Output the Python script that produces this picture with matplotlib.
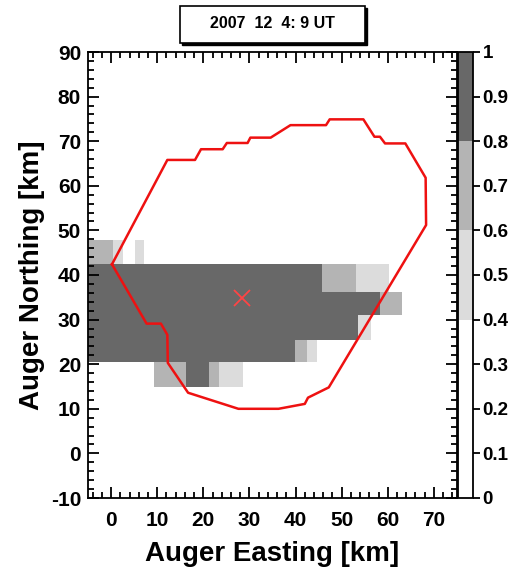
import matplotlib
matplotlib.use('Agg')
import matplotlib.pyplot as plt
import matplotlib.ticker as ticker
from matplotlib.colors import ListedColormap, BoundaryNorm
from matplotlib.patches import Rectangle
import numpy as np

plt.rcParams['font.family'] = ['Liberation Sans', 'DejaVu Sans']
plt.rcParams['font.weight'] = 'bold'
plt.rcParams['axes.unicode_minus'] = False

title = '2007  12  4: 9 UT'

# row edges (km, northing) and the shaded runs in each row: (east start, east end, value)
row_edges = [15.0, 20.4, 25.5, 31.1, 36.3, 42.4, 47.9]
row_runs = [
    [(9.3, 16.3, 0.7), (16.3, 21.3, 0.9), (21.3, 23.5, 0.7), (23.5, 28.5, 0.5)],
    [(-5.0, 39.8, 0.9), (39.8, 42.4, 0.7), (42.4, 44.7, 0.5)],
    [(-5.0, 53.5, 0.9), (53.5, 56.4, 0.5)],
    [(-5.0, 58.3, 0.9), (58.3, 63.0, 0.7)],
    [(-5.0, 45.8, 0.9), (45.8, 53.0, 0.7), (53.0, 60.2, 0.5)],
    [(-5.0, 0.4, 0.7), (0.4, 2.5, 0.5), (5.2, 7.1, 0.5)],
]

# red outline
poly_x = [0.2, 12.2, 18.2, 19.5, 24.2, 25.1, 29.6, 30.2, 34.6, 38.9, 46.6, 47.4,
          54.7, 57.1, 58.3, 59.4, 63.8, 68.2, 68.3, 47.2, 42.7, 42.0, 36.3, 27.6,
          16.7, 12.3, 12.2, 10.8, 7.7, 0.2]
poly_y = [42.4, 65.8, 65.8, 68.2, 68.2, 69.6, 69.6, 70.8, 70.8, 73.6, 73.6, 74.9,
          74.9, 71.0, 71.0, 69.5, 69.5, 61.8, 51.2, 14.8, 12.5, 11.1, 10.0, 10.0,
          13.6, 20.3, 26.6, 29.1, 29.1, 42.4]

center_x = [28.4]
center_y = [34.8]

# build the grid from the runs
x_edges = sorted(set([r[0] for row in row_runs for r in row] + [r[1] for row in row_runs for r in row]))
x_mid = [(a + b) / 2 for a, b in zip(x_edges[:-1], x_edges[1:])]
grid = np.full((len(row_runs), len(x_mid)), np.nan)
for i, row in enumerate(row_runs):
    for j, xm in enumerate(x_mid):
        for x0, x1, v in row:
            if x0 <= xm <= x1:
                grid[i, j] = v

cmap = ListedColormap(['white', 'white', '#dcdcdc', '#b4b4b4', '#686868'])
norm = BoundaryNorm([0, 0.2, 0.4, 0.6, 0.8, 1.0], 5)

fig = plt.figure(figsize=(5.1, 5.74), dpi=100)
ax = fig.add_axes([88 / 510, 76 / 574, 369 / 510, 446 / 574])
cax = fig.add_axes([458 / 510, 76 / 574, 15 / 510, 446 / 574])

mesh = ax.pcolormesh(x_edges, row_edges, np.ma.masked_invalid(grid), cmap=cmap, norm=norm)
ax.plot(poly_x, poly_y, color='#ee1111', lw=1.8)
ax.plot(center_x, center_y, marker='x', ms=11, mew=1.3, color='#ff4444', ls='none')

ax.set_xlim(-5, 75)
ax.set_ylim(-10, 90)
ax.xaxis.set_major_locator(ticker.MultipleLocator(10))
ax.xaxis.set_minor_locator(ticker.MultipleLocator(2))
ax.yaxis.set_major_locator(ticker.MultipleLocator(10))
ax.yaxis.set_minor_locator(ticker.MultipleLocator(2))
ax.tick_params(which='both', direction='in', top=True, right=True, width=1.3, labelsize=15)
ax.tick_params(which='major', length=8)
ax.tick_params(which='minor', length=4)
ax.tick_params(axis='x', pad=9)
ax.tick_params(axis='y', pad=5)
for s in ax.spines.values():
    s.set_linewidth(1.3)
ax.set_xlabel('Auger Easting [km]', fontsize=20, fontweight='bold', labelpad=8)
ax.set_ylabel('Auger Northing [km]', fontsize=20, fontweight='bold', labelpad=4)

cb = fig.colorbar(mesh, cax=cax, ticks=np.arange(0, 1.01, 0.1))
cb.ax.yaxis.set_major_formatter(ticker.FormatStrFormatter('%g'))
cb.ax.tick_params(length=5, width=1.3, labelsize=13.5, pad=2)
cb.outline.set_linewidth(1.3)

# title box with shadow
fig.patches.append(Rectangle((182 / 510, 1 - 45 / 574), 185 / 510, 37 / 574,
                             transform=fig.transFigure, facecolor='black', edgecolor='black'))
fig.patches.append(Rectangle((180 / 510, 1 - 43 / 574), 185 / 510, 37 / 574,
                             transform=fig.transFigure, facecolor='white', edgecolor='black', lw=1.2))
fig.text(272 / 510, 1 - 24 / 574, title, ha='center', va='center', fontsize=11.5, fontweight='bold')

fig.savefig('out.png', dpi=100)
